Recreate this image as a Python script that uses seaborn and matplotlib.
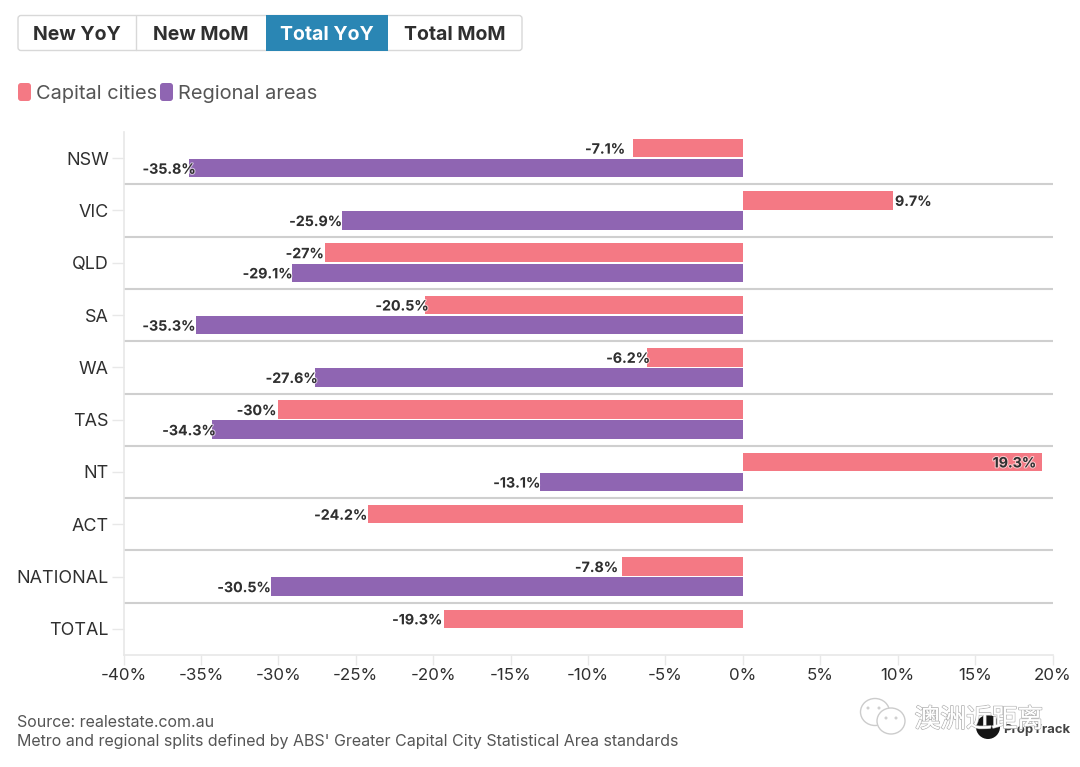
import numpy as np
import pandas as pd
import matplotlib
matplotlib.use("Agg")
import matplotlib.pyplot as plt
import matplotlib.patheffects as pe
from matplotlib.patches import FancyBboxPatch, Rectangle, Ellipse
import seaborn as sns

# Values
states = ["NSW", "VIC", "QLD", "SA", "WA", "TAS", "NT", "ACT", "NATIONAL", "TOTAL"]
capital = [-7.1, 9.7, -27, -20.5, -6.2, -30, 19.3, -24.2, -7.8, -19.3]
regional = [-35.8, -25.9, -29.1, -35.3, -27.6, -34.3, -13.1, np.nan, -30.5, np.nan]
series_names = ["Capital cities", "Regional areas"]
x_ticks = [-40, -35, -30, -25, -20, -15, -10, -5, 0, 5, 10, 15, 20]
buttons = ["New YoY", "New MoM", "Total YoY", "Total MoM"]
source_lines = [
    "Source: realestate.com.au",
    "Metro and regional splits defined by ABS' Greater Capital City Statistical Area standards",
]

RED = "#f47984"
PURPLE = "#8f65b2"
BLUE = "#2a86b4"
DARK = "#2f2f2f"
GREY = "#555555"
W, H = 1080, 767

sns.set_theme(style="white")
plt.rcParams["font.family"] = ["Inter", "DejaVu Sans"]

df = pd.DataFrame({"state": states, series_names[0]: capital, series_names[1]: regional})
long_df = df.melt(id_vars="state", var_name="series", value_name="change")

fig = plt.figure(figsize=(W / 100, H / 100), dpi=100, facecolor="white")
ax = fig.add_axes([123.5 / W, 1 - 655 / H, 929 / W, 523 / H])

sns.barplot(
    data=long_df, y="state", x="change", hue="series", order=states,
    palette=[RED, PURPLE], width=0.77, gap=0.08, legend=False, ax=ax,
    saturation=1, orient="h", linewidth=0,
)

ax.set_xlim(x_ticks[0], x_ticks[-1])
ax.set_ylim(len(states) - 0.5, -0.5)
ax.set_xlabel("")
ax.set_ylabel("")
ax.set_xticks(x_ticks)
ax.set_xticklabels([f"{t}%" for t in x_ticks], fontsize=12.2, color=DARK)
ax.tick_params(axis="x", length=7, width=1, color="#e8e8e8", pad=2.5, bottom=True)
ax.tick_params(axis="y", length=8.5, width=1, color="#e8e8e8", pad=2, left=True, labelsize=12.9, labelcolor=DARK)

for side in ["top", "right"]:
    ax.spines[side].set_visible(False)
for side in ["left", "bottom"]:
    ax.spines[side].set_color("#e8e8e8")
    ax.spines[side].set_linewidth(1.2)

# separators between the states
for k in range(len(states) - 1):
    ax.axhline(k + 0.5, color="#cfcfcf", lw=1.5, zorder=1)

# value labels, nudged in pixels like in the original (the NT one sits inside its bar)
nudges = [
    [8, 2, 1, -3, -3, 2, -49, 1, 4, 2],
    [-7, 0, 0, 1, -2, -4, 0, 0, -4, 0],
]
halo = [pe.withStroke(linewidth=1.5, foreground="white", alpha=0.6)]
for s, container in enumerate(ax.containers):
    for i, bar in enumerate(container.patches):
        val = bar.get_width()
        if np.isnan(val):
            continue
        off = nudges[s][i] * 0.72
        ha = "left" if val > 0 else "right"
        if val < 0:
            off = -off
        ax.annotate(f"{val:g}%", (val, bar.get_y() + bar.get_height() / 2), xytext=(off, 0),
                    textcoords="offset points", ha=ha, va="center_baseline", fontsize=10.2,
                    fontweight="bold", color=DARK, path_effects=halo, zorder=5)

# figure level overlay in pixel coordinates
overlay = fig.add_axes([0, 0, 1, 1], zorder=10)
overlay.set_xlim(0, W)
overlay.set_ylim(H, 0)
overlay.axis("off")
overlay.patch.set_alpha(0)

# button strip
edges = [18, 136, 266, 388, 522]
overlay.add_patch(FancyBboxPatch((18, 15.5), 504, 35, boxstyle="round,pad=0,rounding_size=3",
                                 fc="white", ec="#d8d8d8", lw=1))
overlay.add_patch(Rectangle((edges[2], 15), edges[3] - edges[2], 36, fc=BLUE, ec="none"))
overlay.plot([edges[1], edges[1]], [16, 50], color="#d8d8d8", lw=1)
for i, name in enumerate(buttons):
    overlay.text((edges[i] + edges[i + 1]) / 2, 33, name, ha="center", va="center_baseline",
                 fontsize=14, fontweight="bold", color="white" if i == 2 else DARK)

# legend
for x0, name, col in zip([18, 160], series_names, [RED, PURPLE]):
    overlay.add_patch(FancyBboxPatch((x0, 83), 13, 18, boxstyle="round,pad=0,rounding_size=3",
                                     fc=col, ec="none"))
    overlay.text(x0 + 17.5, 92, name, ha="left", va="center_baseline", fontsize=14.4, color=GREY)

# source
overlay.text(17, 721, source_lines[0], ha="left", va="center_baseline", fontsize=11.5, color=GREY)
overlay.text(17, 740, source_lines[1], ha="left", va="center_baseline", fontsize=11.5, color=GREY)

# watermark
overlay.add_patch(Ellipse((988, 727), 24, 24, fc="#151515", ec="none"))
overlay.text(1003, 729, "PropTrack", ha="left", va="center_baseline", fontsize=9.4,
             fontweight="bold", color="#444444")
for cx, cy, w, h in [(875, 712, 29, 27), (891, 721, 28, 26)]:
    overlay.add_patch(Ellipse((cx, cy), w, h, fc="white", ec="#cccccc", lw=1))
for cx, cy in [(868, 708), (879, 708), (886, 718), (896, 718)]:
    overlay.add_patch(Ellipse((cx, cy), 3, 3, fc="#d0d0d0", ec="none"))
overlay.text(979, 720, "澳洲近距离", ha="center", va="center", fontsize=18.5, color="white",
             family=["Noto Sans CJK SC", "DejaVu Sans"],
             path_effects=[pe.withStroke(linewidth=1.2, foreground="#b5b5b5"),
                           pe.Normal()])

fig.savefig("out.png", dpi=100)
